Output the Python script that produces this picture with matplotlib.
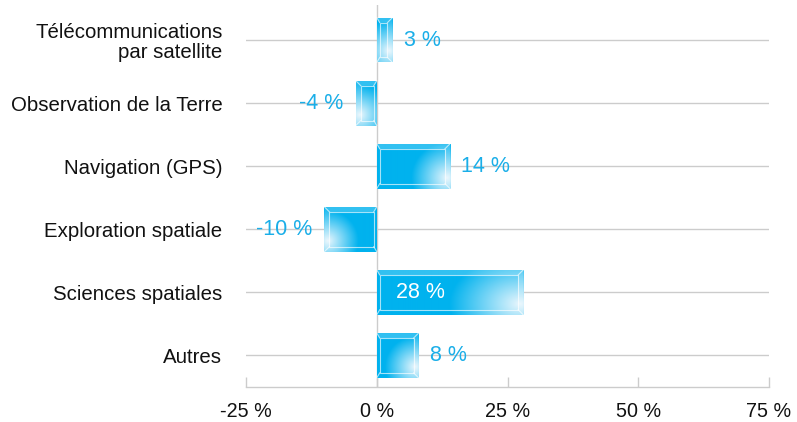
import numpy as np
import matplotlib
matplotlib.use("Agg")
import matplotlib.pyplot as plt
from matplotlib.patches import Polygon, Rectangle

categories = ["Télécommunications\npar satellite", "Observation de la Terre",
              "Navigation (GPS)", "Exploration spatiale", "Sciences spatiales", "Autres"]
values = [3, -4, 14, -10, 28, 8]
value_labels = ["3 %", "-4 %", "14 %", "-10 %", "28 %", "8 %"]
inside_label = [False, False, False, False, True, False]
xticks = [-25, 0, 25, 50, 75]
xtick_labels = ["-25 %", "0 %", "25 %", "50 %", "75 %"]

CYAN = "#00b2ee"
TEXT_CYAN = "#1aaee8"
GRID = "#cccccc"

plt.rcParams["font.family"] = ["Liberation Sans", "DejaVu Sans"]

fig = plt.figure(figsize=(7.97, 4.22), dpi=100)
ax = fig.add_axes([246 / 797, 1 - 387 / 422, (769 - 246) / 797, (387 - 5.35) / 422])
ax.set_xlim(-25, 75)
ax.set_ylim(5.5, -0.55)

y = np.arange(len(categories))
for yi in y:
    ax.axhline(yi, color=GRID, lw=1.0, zorder=1)
ax.axvline(0, color=GRID, lw=1.0, zorder=1)

bars = ax.barh(y, values, height=0.71, color=CYAN, zorder=3, linewidth=0)

fig.canvas.draw()
inv = ax.transData.inverted()
p0 = inv.transform((0, 0))
p1 = inv.transform((1, 1))
px_x = abs(p1[0] - p0[0])
px_y = abs(p1[1] - p0[1])

cA = np.array(matplotlib.colors.to_rgb("#00b2ee"))
cB = np.array(matplotlib.colors.to_rgb("#e8f6fd"))

for b, v in zip(bars, values):
    x0 = min(0, v)
    x1 = max(0, v)
    yc = b.get_y() + b.get_height() / 2
    h = b.get_height()
    yt = yc - h / 2
    yb = yc + h / 2
    w_px = int(round((x1 - x0) / px_x))
    h_px = int(round(h / px_y))
    gx = np.arange(w_px) + 0.5
    gy = np.arange(h_px) + 0.5
    GX, GY = np.meshgrid(gx, gy)
    rx = max(30.0, 0.48 * w_px)
    ry = min(48.0, rx)
    d = np.sqrt(((GX - (w_px - 4)) / rx) ** 2 + ((GY - 0.75 * h_px) / ry) ** 2)
    t = np.clip(1 - d, 0, 1) ** 1.0
    img = cA[None, None, :] * (1 - t[..., None]) + cB[None, None, :] * t[..., None]
    if v < 0:
        img = img[:, ::-1, :]
    im = ax.imshow(img, extent=(x0, x1, yb, yt), aspect="auto", zorder=3.5,
                   interpolation="bilinear")
    im.set_clip_path(b)
    # bevel
    dxo = 5 * px_x
    dxi = 3 * px_x
    dyt = 5 * px_y
    dyb = 5 * px_y
    if v >= 0:
        ix0, ix1 = x0 + dxi, x1 - dxo
    else:
        ix0, ix1 = x0 + dxo, x1 - dxi
    iyt, iyb = yt + dyt, yb - dyb
    ax.add_patch(Polygon([(x0, yt), (x1, yt), (ix1, iyt), (ix0, iyt)], closed=True,
                         facecolor="white", alpha=0.2, lw=0, zorder=4))
    if v >= 0:
        side = [(x1, yt), (x1, yb), (ix1, iyb), (ix1, iyt)]
    else:
        side = [(x0, yt), (x0, yb), (ix0, iyb), (ix0, iyt)]
    ax.add_patch(Polygon(side, closed=True, facecolor="white", alpha=0.15, lw=0, zorder=4))
    ax.add_patch(Rectangle((ix0, iyt), ix1 - ix0, iyb - iyt, fill=False,
                           edgecolor="white", alpha=0.65, lw=0.8, zorder=4.2))
    for (ox, oy), (qx, qy) in [((x0, yt), (ix0, iyt)), ((x1, yt), (ix1, iyt)),
                                ((x1, yb), (ix1, iyb)), ((x0, yb), (ix0, iyb))]:
        ax.plot([ox, qx], [oy, qy], color="white", alpha=0.65, lw=0.8, zorder=4.2)

for yi, v, lab, ins in zip(y, values, value_labels, inside_label):
    if ins:
        ax.annotate(lab, (0, yi), xytext=(14, 0), textcoords="offset points",
                    ha="left", va="center", color="white", fontsize=15.5, zorder=5)
    elif v >= 0:
        ax.annotate(lab, (v, yi), xytext=(8, 0), textcoords="offset points",
                    ha="left", va="center", color=TEXT_CYAN, fontsize=15.5, zorder=5)
    else:
        ax.annotate(lab, (v, yi), xytext=(-9, 0), textcoords="offset points",
                    ha="right", va="center", color=TEXT_CYAN, fontsize=15.5, zorder=5)

ax.set_yticks(y)
ax.set_yticklabels(categories, fontsize=14.7, color="#111111", linespacing=1.05)
ax.tick_params(axis="y", length=0, pad=17)
ax.set_xticks(xticks)
ax.set_xticklabels(xtick_labels, fontsize=14.2, color="#111111")
ax.tick_params(axis="x", direction="in", length=7, width=1, color=GRID, pad=11)
for s in ["top", "right", "left"]:
    ax.spines[s].set_visible(False)
ax.spines["bottom"].set_color(GRID)
ax.spines["bottom"].set_linewidth(1.0)
ax.set_facecolor("white")

fig.savefig("out.png", dpi=100)
